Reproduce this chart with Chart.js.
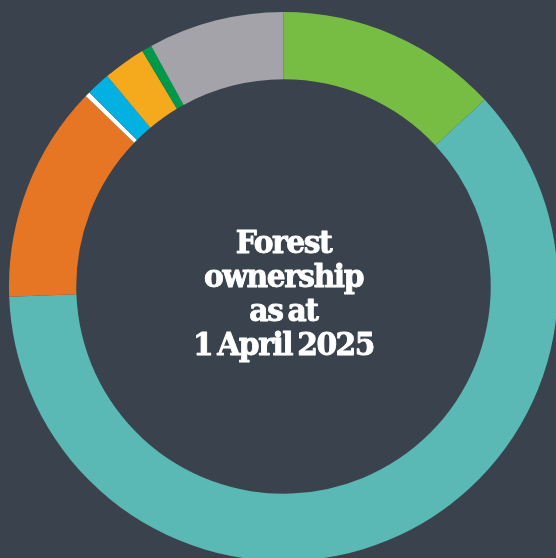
<!DOCTYPE html>
<html>
<head>
<meta charset="utf-8">
<script src="https://cdn.jsdelivr.net/npm/chart.js@4"></script>
<style>
  html, body { margin: 0; padding: 0; width: 556px; height: 558px; overflow: hidden; background: #3a434d; }
  #wrap { position: absolute; left: 9px; top: 12px; width: 549px; height: 549px; }
</style>
</head>
<body>
<div id="wrap"><canvas id="ownershipChart" width="549" height="549"></canvas></div>
<script>
// shares of forest area, % (read clockwise from 12 o'clock)
var categories = ["Category 1", "Category 2", "Category 3", "Category 4", "Category 5", "Category 6", "Category 7", "Category 8"];
var shares = [13.1, 61.3, 12.8, 0.3, 1.4, 2.5, 0.6, 8.0];
var colours = ["#78bd43", "#5ab9b4", "#e77624", "#ffffff", "#02b0e2", "#f5aa1e", "#00984b", "#a4a3a9"];
var titleLines = ["Forest", "ownership", "as at", "1 April 2025"];

var centreText = {
  id: "centreText",
  afterDraw: function (chart) {
    var arc = chart.getDatasetMeta(0).data[0];
    var ctx = chart.ctx;
    ctx.save();
    ctx.fillStyle = "#ffffff";
    ctx.strokeStyle = "#ffffff";
    ctx.lineWidth = 0.9;
    ctx.lineJoin = "round";
    ctx.font = "bold 31px 'DejaVu Serif'";
    ctx.textAlign = "center";
    ctx.textBaseline = "alphabetic";
    ctx.letterSpacing = "-1.5px";
    ctx.wordSpacing = "-4px";
    var squeeze = 159 / ctx.measureText("ownership").width;
    for (var i = 0; i < titleLines.length; i++) {
      ctx.save();
      ctx.translate(arc.x, arc.y + (i - 1.5) * 34 + 17);
      ctx.scale(squeeze, 1);
      ctx.fillText(titleLines[i], 0, 0);
      ctx.strokeText(titleLines[i], 0, 0);
      ctx.restore();
    }
    ctx.restore();
  }
};

var ctxD = document.getElementById("ownershipChart").getContext("2d");
var ownershipChart = new Chart(ctxD, {
  type: "doughnut",
  data: {
    labels: categories,
    datasets: [{
      data: shares,
      backgroundColor: colours,
      borderWidth: 0,
      hoverOffset: 0,
      offset: 0
    }]
  },
  options: {
    responsive: false,
    animation: false,
    cutout: "75.5%",
    layout: { padding: 0 },
    plugins: {
      legend: { display: false },
      tooltip: { enabled: false }
    }
  },
  plugins: [centreText]
});
</script>
</body>
</html>
